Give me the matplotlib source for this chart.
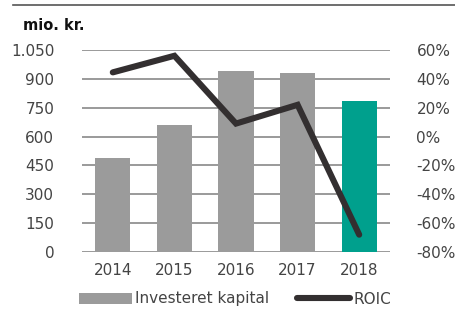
import matplotlib
matplotlib.use('Agg')
import matplotlib.pyplot as plt
from matplotlib.lines import Line2D
from matplotlib.patches import Patch

# data
years = ['2014', '2015', '2016', '2017', '2018']
capital = [490, 660, 940, 932, 785]        # mio. kr.
roic = [44.5, 56, 9, 22, -68]              # percent
left_ticks = [0, 150, 300, 450, 600, 750, 900, 1050]
left_labels = ['0', '150', '300', '450', '600', '750', '900', '1.050']
right_ticks = [-80, -60, -40, -20, 0, 20, 40, 60]

GRAY = '#9b9b9b'
TEAL = '#00a08d'
DARK = '#332f30'
TXT = '#444444'
FS = 11

plt.rcParams['font.family'] = ['DejaVu Sans']

fig = plt.figure(figsize=(4.55, 3.17), dpi=100)
ax = fig.add_axes([82 / 455, 1 - 252 / 317, 308 / 455, 202 / 317])

x = list(range(len(years)))
colors = [GRAY] * (len(years) - 1) + [TEAL]
ax.bar(x, capital, width=0.57, color=colors, zorder=2)
ax.set_xlim(-0.5, len(years) - 0.5)
ax.set_ylim(0, 1050)
ax.set_yticks(left_ticks)
ax.set_yticklabels(left_labels)
ax.yaxis.grid(True, color='#9a9a9a', linewidth=1.4, zorder=0)
ax.set_axisbelow(True)
ax.set_xticks(x)
ax.set_xticklabels(years)
for s in ax.spines.values():
    s.set_visible(False)
ax.tick_params(length=0, labelsize=FS, colors=TXT)
ax.tick_params(axis='y', pad=20)
ax.tick_params(axis='x', pad=8)

ax2 = ax.twinx()
ax2.plot(x, roic, color=DARK, linewidth=4.4, solid_capstyle='round',
         solid_joinstyle='miter', zorder=5)
ax2.set_ylim(-80, 60)
ax2.set_yticks(right_ticks)
ax2.set_yticklabels([f'{t}%' for t in right_ticks])
for s in ax2.spines.values():
    s.set_visible(False)
ax2.tick_params(length=0, labelsize=FS, colors=TXT, pad=19)

fig.text(23 / 455, 1 - 25 / 317, 'mio. kr.', fontsize=10.5, fontweight='bold',
         color='#111111', va='center')

# thin rule across the top
fig.add_artist(Line2D([13 / 455, 1], [1 - 5 / 317, 1 - 5 / 317],
                      color='#555555', linewidth=1.2))

handles = [Patch(facecolor=GRAY, edgecolor='none'),
           Line2D([], [], color=DARK, linewidth=4.4, solid_capstyle='round')]
fig.legend(handles, ['Investeret kapital', 'ROIC'], loc='center',
           bbox_to_anchor=(235 / 455, 1 - 299 / 317), ncol=2, frameon=False,
           fontsize=FS, handlelength=3.5, handleheight=0.75, handletextpad=0.2,
           columnspacing=1.8, labelcolor=TXT)

fig.savefig('out.png', dpi=100)
